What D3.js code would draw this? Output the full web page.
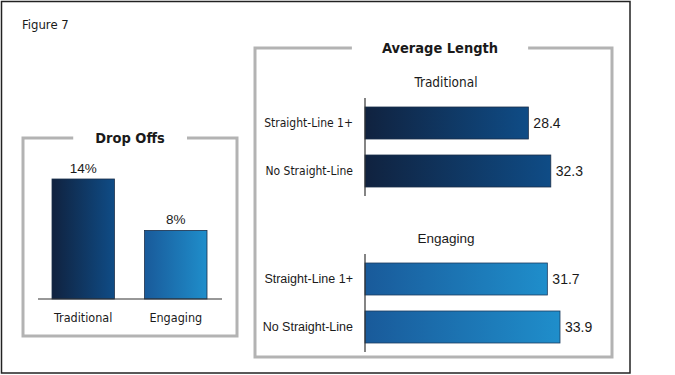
<html>
<head>
<meta charset="utf-8">
<script src="https://d3js.org/d3.v7.min.js"></script>
<style>
  body { margin: 0; background: #fff; }
  text { fill: #1a1a1a; }
</style>
</head>
<body>
<script>
  const dropCategories = ["Traditional", "Engaging"];
  const dropValues = [14, 8];
  const dropLabels = ["14%", "8%"];

  const lengthCategories = ["Straight-Line 1+", "No Straight-Line"];
  const traditionalLengths = [28.4, 32.3];
  const engagingLengths = [31.7, 33.9];

  const w = 675, h = 375;
  const cond = "'DejaVu Sans Condensed', 'DejaVu Sans', sans-serif";
  const arial = "'Liberation Sans', Arial, sans-serif";

  const svg = d3.select("body").append("svg")
    .attr("width", w).attr("height", h);

  const defs = svg.append("defs");
  function grad(id, c1, c2) {
    const g = defs.append("linearGradient").attr("id", id)
      .attr("x1", "0%").attr("x2", "100%").attr("y1", "0%").attr("y2", "0%");
    g.append("stop").attr("offset", "0%").attr("stop-color", c1);
    g.append("stop").attr("offset", "100%").attr("stop-color", c2);
  }
  grad("gTrad", "#10223f", "#0f4c86");
  grad("gEng", "#195a9a", "#1f8ecb");

  // outer frame
  svg.append("rect").attr("x", 1.5).attr("y", 1.5)
    .attr("width", 628.5).attr("height", 371.5)
    .attr("fill", "none").attr("stroke", "#222").attr("stroke-width", 1.5);

  svg.append("text").attr("x", 22).attr("y", 29)
    .attr("font-family", cond).attr("font-size", 13)
    .text("Figure 7");

  // gray panel with a gap in the top edge for its title
  function panel(x0, y0, x1, y1, title, cx, pad) {
    const t = svg.append("text").attr("x", cx).attr("y", y0 + 5)
      .attr("text-anchor", "middle")
      .attr("font-family", cond).attr("font-size", 14.5).attr("font-weight", "bold")
      .text(title);
    const bb = t.node().getBBox();
    const g1 = bb.x - pad, g2 = bb.x + bb.width + pad;
    svg.insert("path", "text")
      .attr("d", `M${g1},${y0}H${x0}V${y1}H${x1}V${y0}H${g2}`)
      .attr("fill", "none").attr("stroke", "#b3b3b3").attr("stroke-width", 3);
  }
  panel(23, 138, 237, 336, "Drop Offs", 130, 22);
  panel(255, 48, 612, 357, "Average Length", 440, 30);

  // Drop Offs bars
  const xDrop = d3.scaleBand().domain(dropCategories).range([52, 207]).paddingInner(0.326);
  const yDrop = d3.scaleLinear().domain([0, 14]).range([299, 179]);
  const dropFills = ["url(#gTrad)", "url(#gEng)"];

  const dg = svg.append("g");
  dg.selectAll("rect").data(dropValues).enter().append("rect")
    .attr("x", (d, i) => xDrop(dropCategories[i]))
    .attr("y", d => yDrop(d))
    .attr("width", xDrop.bandwidth())
    .attr("height", d => yDrop(0) - yDrop(d))
    .attr("fill", (d, i) => dropFills[i])
    .attr("stroke", "#1b2f4a").attr("stroke-width", 0.8);
  dg.selectAll("text.val").data(dropValues).enter().append("text")
    .attr("class", "val")
    .attr("x", (d, i) => xDrop(dropCategories[i]) + xDrop.bandwidth() / 2)
    .attr("y", d => yDrop(d) - 6)
    .attr("text-anchor", "middle")
    .attr("font-family", arial).attr("font-size", 13.5)
    .text((d, i) => dropLabels[i]);

  const xAxisDrop = d3.axisBottom(xDrop).tickSize(0).tickPadding(14);
  const ax = svg.append("g").attr("transform", `translate(0,${yDrop(0)})`).call(xAxisDrop);
  ax.select(".domain").remove();
  ax.selectAll("text").attr("font-family", cond).attr("font-size", 12.5).attr("fill", "#1a1a1a");
  svg.append("line").attr("x1", 38).attr("x2", 222)
    .attr("y1", yDrop(0)).attr("y2", yDrop(0))
    .attr("stroke", "#333").attr("stroke-width", 1.2);

  // Average Length bars
  const xLen = d3.scaleLinear().domain([0, 33.9]).range([365, 560]);

  function lengthGroup(name, values, top, fill, stroke, labelFont, labelSize) {
    const y = d3.scaleBand().domain(lengthCategories).range([top, top + 80]).paddingInner(1 / 3);
    svg.append("text").attr("x", 446).attr("y", top - 20)
      .attr("text-anchor", "middle")
      .attr("font-family", name === "Traditional" ? cond : arial)
      .attr("font-size", 13.5).text(name);

    const g = svg.append("g");
    g.selectAll("rect").data(values).enter().append("rect")
      .attr("x", xLen(0))
      .attr("y", (d, i) => y(lengthCategories[i]))
      .attr("width", d => xLen(d) - xLen(0))
      .attr("height", y.bandwidth())
      .attr("fill", fill)
      .attr("stroke", stroke).attr("stroke-width", 0.8);
    g.selectAll("text").data(values).enter().append("text")
      .attr("x", d => xLen(d) + 5)
      .attr("y", (d, i) => y(lengthCategories[i]) + y.bandwidth() / 2 + 1)
      .attr("dominant-baseline", "middle")
      .attr("font-family", arial).attr("font-size", 14)
      .text(d => d.toFixed(1));

    const axis = d3.axisLeft(y).tickSize(0).tickPadding(12);
    const a = svg.append("g").attr("transform", `translate(${xLen(0)},0)`).call(axis);
    a.select(".domain").remove();
    a.selectAll("text").attr("font-family", labelFont).attr("font-size", labelSize).attr("fill", "#1a1a1a");
    svg.append("line").attr("x1", xLen(0)).attr("x2", xLen(0))
      .attr("y1", top - 9).attr("y2", top + 89)
      .attr("stroke", "#333").attr("stroke-width", 1.2);
  }
  lengthGroup("Traditional", traditionalLengths, 107, "url(#gTrad)", "#1b2f4a", cond, 12);
  lengthGroup("Engaging", engagingLengths, 263, "url(#gEng)", "#1c3c60", arial, 12.5);
</script>
</body>
</html>
